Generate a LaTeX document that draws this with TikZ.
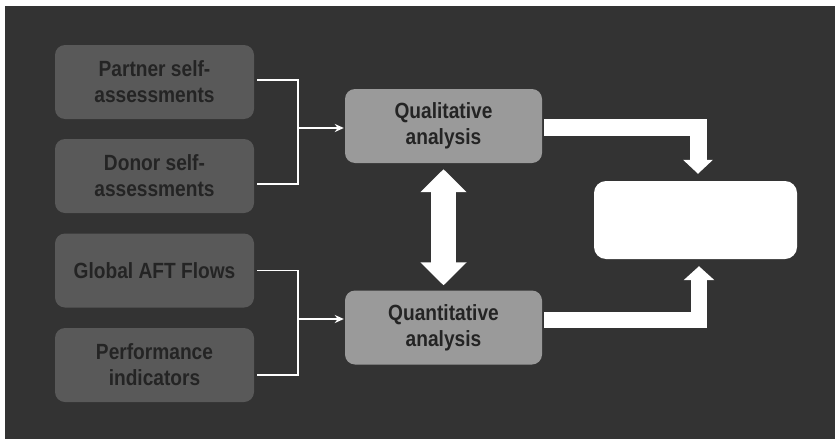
\documentclass[tikz,border=0pt]{standalone}
\usepackage{fontspec}
\setmainfont{Liberation Sans}[FakeStretch=0.87]
\usetikzlibrary{arrows.meta}

\definecolor{bgdark}{HTML}{333333}
\definecolor{srcgray}{HTML}{595959}
\definecolor{midgray}{HTML}{9A9A9A}
\definecolor{txtdark}{HTML}{242424}

\tikzset{
    srcbox/.style={fill=srcgray,rounded corners=10pt,minimum width=199pt,minimum height=74pt,
        align=center,text=txtdark,font=\fontsize{22}{26}\selectfont\bfseries,inner sep=0pt},
    anabox/.style={srcbox,fill=midgray,minimum width=197pt},
    link/.style={line width=1.6pt,white},
    fat/.style={line width=#1,white,line join=miter}
}

\begin{document}
\begin{tikzpicture}[x=1pt,y=-1pt]
            \useasboundingbox (0,0) rectangle (835,439);
            \fill[white] (0,0) rectangle (835,439);
            \fill[bgdark] (5,6) rectangle (835,439);

            \node[srcbox] (partner) at (154.5,82) {Partner self-\\assessments};
            \node[srcbox] (donor) at (154.5,176) {Donor self-\\assessments};
            \node[srcbox] (global) at (154.5,270.5) {Global AFT Flows};
            \node[srcbox] (perf) at (154.5,365) {Performance\\indicators};

            \node[anabox] (qual) at (443.5,126) {Qualitative\\analysis};
            \node[anabox] (quant) at (443.5,327.5) {Quantitative\\analysis};

            \node[fill=white,rounded corners=12pt,minimum width=203pt,minimum height=78pt] (result) at (695.5,220) {};

            \coordinate (j1) at (298,128);
            \coordinate (j2) at (298,319);

            \draw [link] ([xshift=3pt,yshift=2pt]partner.east) -| (j1) |- ([xshift=3pt,yshift=-8pt]donor.east);
            \draw [link,-{Stealth[length=9pt,width=8pt]}] (j1) -- ([xshift=-1pt]qual.west |- j1);
            \draw [link] ([xshift=3pt]global.east) -| (j2) |- ([xshift=3pt,yshift=-10pt]perf.east);
            \draw [link,-{Stealth[length=9pt,width=8pt]}] (j2) -- ([xshift=-1pt]quant.west |- j2);

            % block arrows into the result box
            \draw [fat=25pt,{Triangle[width=45pt,length=23pt]}-{Triangle[width=45pt,length=23pt]}] ([yshift=-6pt]qual.south) -- ([yshift=5pt]quant.north);
            \draw [fat=17pt,-{Triangle[width=29pt,length=14pt]}] ([xshift=2pt,yshift=-1.5pt]qual.east) -| ([xshift=2.5pt,yshift=7pt]result.north);
            \draw [fat=16pt,-{Triangle[width=30pt,length=14pt]}] ([xshift=2pt,yshift=7.5pt]quant.east) -| ([xshift=3.5pt,yshift=-7pt]result.south);
\end{tikzpicture}
\end{document}
